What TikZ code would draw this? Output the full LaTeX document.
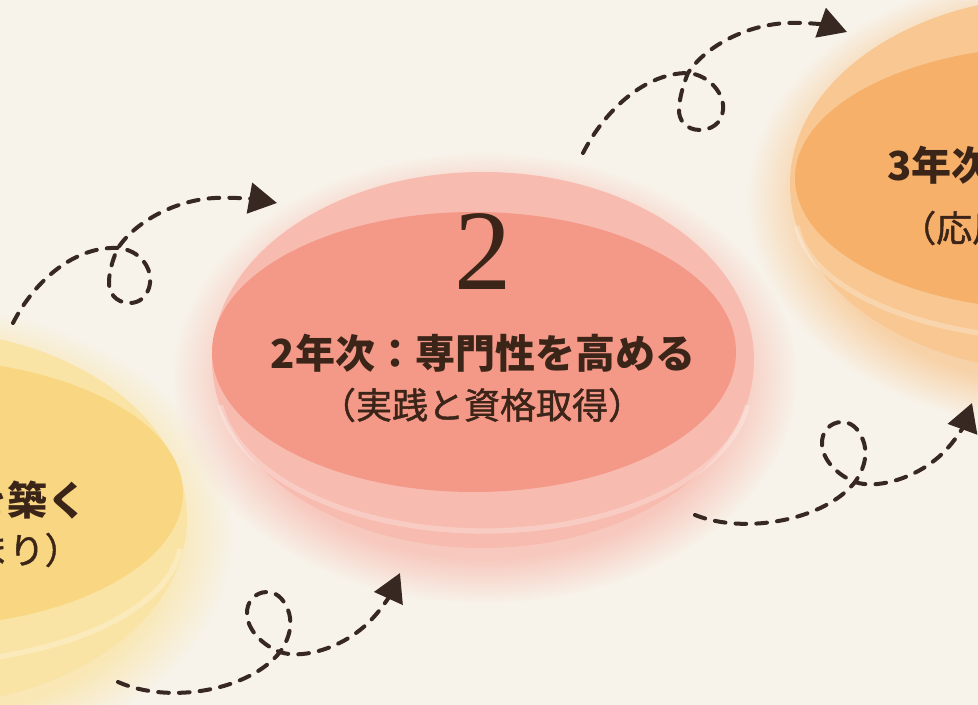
\documentclass[tikz,border=0pt]{standalone}
\usepackage{fontspec}
\usepackage{tikz}
\usepackage{color}
\usetikzlibrary{fadings}
\usetikzlibrary{arrows.meta}

\newfontfamily\jpfont{Noto Sans CJK JP}
\newfontfamily\jpsub{Noto Sans CJK JP}[FakeBold=1.2]
\newfontfamily\numfont{Liberation Serif}

\definecolor{bgcream}{RGB}{247,243,234}
\definecolor{inkbrown}{RGB}{59,36,24}
\definecolor{dashbrown}{RGB}{55,40,34}
\definecolor{yelrim}{RGB}{250,228,165}
\definecolor{yelface}{RGB}{249,214,130}
\definecolor{pinkrim}{RGB}{247,187,176}
\definecolor{pinkface}{RGB}{244,152,136}
\definecolor{orarim}{RGB}{248,199,146}
\definecolor{oraface}{RGB}{246,176,106}

\tikzset{
  glow/.style={path fading=circle with fuzzy edge 20 percent, opacity=0.75},
  rimline/.style={draw=white, opacity=0.25, line width=4pt},
  loopdash/.style={draw=dashbrown, line width=3pt, line cap=round, dash pattern=on 8pt off 7.6pt, -{Triangle[length=21pt,width=23pt]}},
  titletext/.style={text=inkbrown, inner sep=0.75pt, font=\jpfont\bfseries\fontsize{30}{30}\selectfont},
  subtext/.style={text=inkbrown, inner sep=0.75pt, font=\jpsub\fontsize{27}{27}\selectfont},
}

\begin{document}
\begin{tikzpicture}[x=0.75pt,y=0.75pt,yscale=-1,xscale=1]
\clip (0,0) rectangle (978,705);
\fill [bgcream] (0,0) rectangle (978,705);

%Shape: Ellipse [id:glow1]
\fill [yelrim, glow] (-85,535) ellipse (318 and 230);
%Shape: Ellipse [id:glow2]
\fill [pinkrim, glow] (485,378) ellipse (312 and 225);
%Shape: Ellipse [id:glow3]
\fill [orarim, glow] (1062,200) ellipse (315 and 228);

%Shape: Ellipse [id:disk1]
\fill [yelrim] (-85,518) ellipse (272 and 188);
\draw [rimline] (180.0,548.9) arc [start angle=5, end angle=175, x radius=266, y radius=125];
\fill [yelface] (-85,493) ellipse (268 and 134);

%Shape: Ellipse [id:disk2]
\fill [pinkrim] (483,360) ellipse (271 and 188);
\draw [rimline] (747.4,405.3) arc [start angle=8, end angle=172, x radius=266, y radius=146];
\fill [pinkface] (474,352) ellipse (262 and 140);

%Shape: Ellipse [id:disk3]
\fill [orarim] (1062,184) ellipse (272 and 188);
\draw [rimline] (1327,225.9) arc [start angle=5, end angle=175, x radius=266, y radius=124];
\fill [oraface] (1057,178) ellipse (262 and 132);

% Text Node
\draw (89,500) node [anchor=east] [titletext] (t1a) {を築く};
% Text Node
\draw (82,550) node [anchor=east] [subtext] (t1b) {まり）};
% Text Node
\draw (483,252) node [anchor=center] [inner sep=0.75pt, text=inkbrown, font=\numfont\fontsize{86}{86}\selectfont] (num2) {2};
% Text Node
\draw (483,353) node [anchor=center] [titletext] (t2a) {2年次：専門性を高める};
% Text Node
\draw (482,405) node [anchor=center] [subtext] (t2b) {（実践と資格取得）};
% Text Node
\draw (886,165) node [anchor=west] [titletext] (t3a) {3年次};
% Text Node
\draw (899,228) node [anchor=west] [subtext] (t3b) {（応用};

% arrow ends
\coordinate (a1s) at (13,323);
\coordinate (a1x) at (118,248);
\coordinate (a1e) at (277,203);
\coordinate (a2s) at (583,153);
\coordinate (a2x) at (688,73);
\coordinate (a2e) at (847,32);
\coordinate (a3s) at (118,682);
\coordinate (a3x) at (280,652);
\coordinate (a3e) at (400,573);
\coordinate (a4s) at (695,515);
\coordinate (a4x) at (855,482);
\coordinate (a4e) at (972,403);

%Curve Lines [id:loop1]
\draw [loopdash] (a1s) .. controls (35,280) and (75,246) .. (a1x)
  .. controls (140,250) and (152,268) .. (150,283)
  .. controls (148,298) and (138,303) .. (130,303)
  .. controls (115,303) and (108,292) .. (109,280)
  .. controls (110,268) and (114,256) .. (a1x)
  .. controls (135,222) and (175,200) .. (215,198)
  .. controls (240,197) and (260,200) .. (a1e);
%Curve Lines [id:loop2]
\draw [loopdash] (a2s) .. controls (605,110) and (645,73) .. (a2x)
  .. controls (710,75) and (725,95) .. (723,110)
  .. controls (722,124) and (710,130) .. (700,130)
  .. controls (686,130) and (678,120) .. (679,108)
  .. controls (680,95) and (684,83) .. (a2x)
  .. controls (705,47) and (745,25) .. (787,23)
  .. controls (810,22) and (830,26) .. (a2e);
%Curve Lines [id:loop3]
\draw [loopdash] (a3s) .. controls (170,705) and (250,690) .. (a3x)
  .. controls (292,635) and (292,620) .. (288,610)
  .. controls (283,597) and (275,592) .. (267,592)
  .. controls (255,592) and (246,602) .. (247,615)
  .. controls (248,630) and (262,645) .. (a3x)
  .. controls (300,659) and (335,650) .. (360,630)
  .. controls (378,616) and (390,595) .. (a3e);
%Curve Lines [id:loop4]
\draw [loopdash] (a4s) .. controls (745,535) and (825,520) .. (a4x)
  .. controls (867,465) and (867,450) .. (863,440)
  .. controls (858,427) and (850,422) .. (842,422)
  .. controls (830,422) and (821,432) .. (822,445)
  .. controls (823,460) and (837,475) .. (a4x)
  .. controls (875,489) and (910,480) .. (935,460)
  .. controls (953,446) and (964,425) .. (a4e);
\end{tikzpicture}
\end{document}
